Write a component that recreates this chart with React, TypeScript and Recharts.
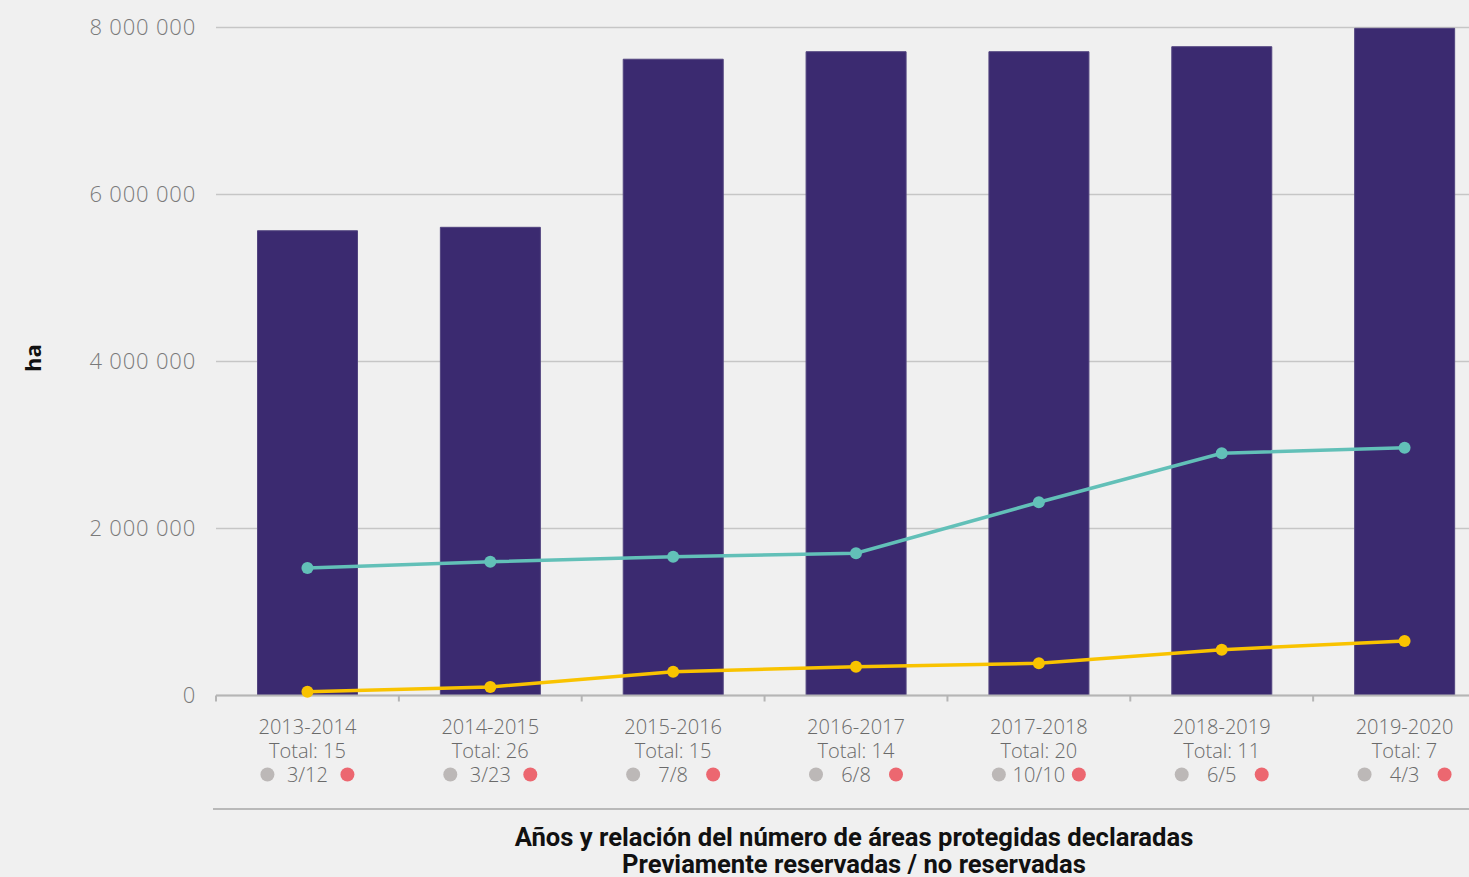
import React from "react";
import { ComposedChart, Bar, Line, XAxis, YAxis, CartesianGrid } from "recharts";

const periods = ["2013-2014", "2014-2015", "2015-2016", "2016-2017", "2017-2018", "2018-2019", "2019-2020"];
const totals = [15, 26, 15, 14, 20, 11, 7];
const reserved = [3, 3, 7, 6, 10, 6, 4];
const notReserved = [12, 23, 8, 8, 10, 5, 3];
const totalHa = [5566000, 5607000, 7620000, 7710000, 7710000, 7770000, 7990000];
const tealHa = [1527000, 1602000, 1662000, 1703000, 2314000, 2901000, 2968000];
const yellowHa = [46000, 102000, 285000, 345000, 386000, 549000, 653000];
const yTicks = [0, 2000000, 4000000, 6000000, 8000000];

const data = periods.map((p, i) => ({
  period: p,
  total: totals[i],
  reserved: reserved[i],
  notReserved: notReserved[i],
  bar: totalHa[i],
  teal: tealHa[i],
  yellow: yellowHa[i],
}));

const BG = "#f0f0f0";
const FONT = "'Open Sans', 'DejaVu Sans', sans-serif";

const fmt = (v: number) => String(v).replace(/\B(?=(\d{3})+(?!\d))/g, " ");

const YTick = (props: any) => {
  const { x, y, payload } = props;
  return (
    <text
      x={x}
      y={y}
      dy="0.36em"
      textAnchor="end"
      fill="#7a7a7a"
      fontSize={22}
      letterSpacing={0.8}
      fontFamily={FONT}
      fontWeight={300}
    >
      {fmt(payload.value)}
    </text>
  );
};

const XTick = (props: any) => {
  const { x, y, payload, index } = props;
  const d = data[index];
  const half = payload.offset || 0;
  const common = {
    textAnchor: "middle" as const,
    fill: "#6a6a6a",
    fontSize: 20,
    fontFamily: FONT,
    fontWeight: 300,
    dy: "0.36em",
  };
  return (
    <g>
      <line x1={x - half} x2={x - half} y1={y} y2={y + 6} stroke="#b5b5b5" strokeWidth={2} />
      <text x={x} y={y + 31} {...common}>
        {d.period}
      </text>
      <text x={x} y={y + 55} {...common}>
        {"Total: " + d.total}
      </text>
      <circle cx={x - 40} cy={y + 79} r={7} fill="#bcb8b7" />
      <text x={x} y={y + 79} {...common}>
        {d.reserved + "/" + d.notReserved}
      </text>
      <circle cx={x + 40} cy={y + 79} r={7} fill="#ec6770" />
    </g>
  );
};

export default function App() {
  return (
    <div style={{ position: "fixed", inset: 0, background: BG, overflow: "hidden" }}>
      <div style={{ position: "absolute", left: 0, top: 0 }}>
        <ComposedChart
          width={1510}
          height={877}
          data={data}
          margin={{ top: 27.5, right: 14, bottom: 0, left: 0 }}
          barCategoryGap="22.7%"
        >
          <CartesianGrid vertical={false} stroke="#c6c6c6" strokeWidth={1.5} />
          <YAxis
            width={216}
            domain={[0, 8000000]}
            ticks={yTicks}
            axisLine={false}
            tickLine={false}
            tickSize={0}
            tickMargin={20}
            tick={<YTick />}
            interval={0}
          />
          <XAxis
            dataKey="period"
            height={181.5}
            tickSize={0}
            tickMargin={0}
            tickLine={false}
            axisLine={{ stroke: "#b5b5b5", strokeWidth: 2 }}
            tick={<XTick />}
            interval={0}
          />
          <Bar dataKey="bar" fill="#3b2a70" stroke="#52447f" strokeWidth={1} isAnimationActive={false} />
          <Line
            dataKey="teal"
            stroke="#62c0b8"
            strokeWidth={3.5}
            dot={{ r: 6, fill: "#62c0b8", stroke: "none" }}
            isAnimationActive={false}
          />
          <Line
            dataKey="yellow"
            stroke="#f9c300"
            strokeWidth={3.5}
            dot={{ r: 6, fill: "#f9c300", stroke: "none" }}
            isAnimationActive={false}
          />
        </ComposedChart>
      </div>
      <div
        style={{
          position: "absolute",
          left: 32,
          top: 358,
          transform: "translate(-50%, -50%) rotate(-90deg)",
          fontFamily: FONT,
          fontWeight: 700,
          fontSize: 22,
          color: "#111",
          whiteSpace: "nowrap",
        }}
      >
        ha
      </div>
      <div style={{ position: "absolute", left: 213, right: 0, top: 808, height: 2, background: "#b9b9b9" }} />
      <div
        style={{
          position: "absolute",
          left: 554,
          width: 600,
          top: 824,
          fontFamily: "'Roboto', 'Open Sans', sans-serif",
          fontWeight: 700,
          fontSize: 25.6,
          lineHeight: "27px",
          color: "#111",
          whiteSpace: "nowrap",
          display: "flex",
          flexDirection: "column",
          alignItems: "center",
        }}
      >
        <div>Años y relación del número de áreas protegidas declaradas</div>
        <div>Previamente reservadas / no reservadas</div>
      </div>
    </div>
  );
}
